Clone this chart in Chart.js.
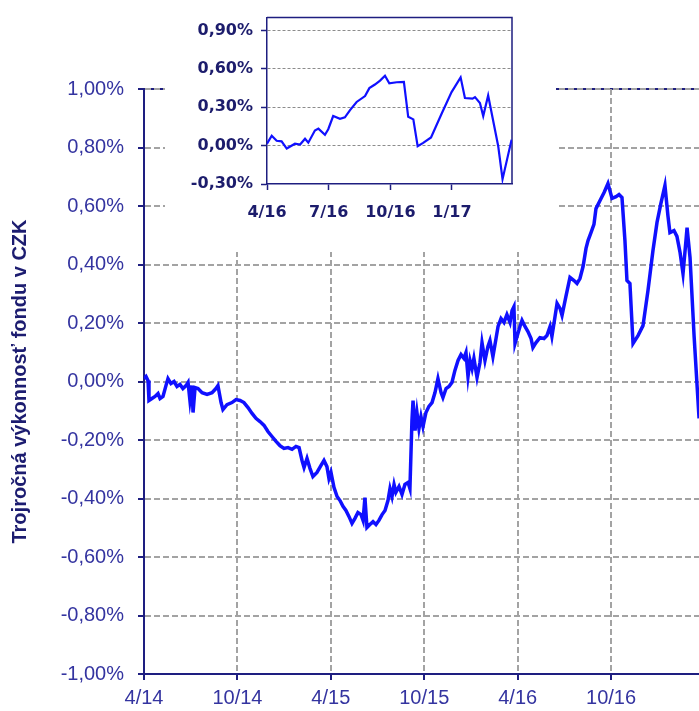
<!DOCTYPE html>
<html>
<head>
<meta charset="utf-8">
<script src="https://cdn.jsdelivr.net/npm/chart.js@4.4.0/dist/chart.umd.min.js"></script>
<style>
html, body { margin: 0; padding: 0; background: #fff; overflow: hidden; }
#wrap { position: relative; width: 699px; height: 711px; overflow: hidden; }
#mainChart { position: absolute; left: 0; top: 0; }
#insetChart { position: absolute; left: 165px; top: 0; background: #fff; }
</style>
</head>
<body>
<div id="wrap">
  <canvas id="mainChart" width="740" height="711"></canvas>
  <canvas id="insetChart" width="391" height="252"></canvas>
</div>
<script>
// main series: months since 4/2014, value in %
const mainMonths = [0.00,0.13,0.26,0.32,0.51,0.71,0.90,1.03,1.22,1.41,1.54,1.73,1.93,2.12,2.31,2.50,2.70,2.83,2.95,3.08,
  3.15,3.28,3.47,3.73,4.05,4.37,4.62,4.75,4.95,5.07,5.33,5.65,5.91,6.17,6.42,6.68,6.94,7.19,7.45,7.71,
  7.96,8.22,8.48,8.73,8.99,9.25,9.51,9.76,9.96,10.15,10.28,10.47,10.66,10.85,11.11,11.37,11.56,11.75,11.88,12.01,
  12.20,12.40,12.59,12.78,12.97,13.17,13.36,13.55,13.74,13.94,14.07,14.19,14.32,14.51,14.71,14.90,15.09,15.29,15.48,15.67,
  15.80,15.93,16.06,16.18,16.38,16.57,16.76,16.96,17.08,17.21,17.28,17.41,17.53,17.66,17.79,17.92,18.11,18.30,18.50,18.69,
  18.88,19.08,19.20,19.40,19.59,19.78,19.97,20.17,20.36,20.55,20.68,20.81,20.94,21.07,21.19,21.39,21.58,21.71,21.90,22.09,
  22.22,22.41,22.61,22.74,22.93,23.12,23.31,23.51,23.64,23.76,23.83,23.96,24.15,24.28,24.47,24.66,24.86,24.98,25.18,25.43,
  25.69,25.88,26.08,26.20,26.40,26.53,26.72,26.85,27.10,27.36,27.62,27.81,28.00,28.20,28.39,28.52,28.71,28.90,29.03,29.29,
  29.55,29.80,30.06,30.32,30.51,30.70,30.89,31.02,31.21,31.41,31.73,32.05,32.37,32.69,32.95,33.20,33.46,33.65,33.78,34.04,
  34.23,34.43,34.62,34.81,34.88,35.07,35.33,35.65];
const mainValues = [0.010,0.017,0.003,-0.065,-0.058,-0.051,-0.041,-0.058,-0.051,-0.014,0.010,-0.007,0.000,-0.017,-0.010,-0.024,-0.014,-0.003,-0.065,-0.014,
  -0.106,-0.021,-0.024,-0.038,-0.044,-0.038,-0.024,-0.014,-0.072,-0.096,-0.079,-0.072,-0.062,-0.065,-0.072,-0.089,-0.109,-0.126,-0.137,-0.150,
  -0.171,-0.188,-0.205,-0.219,-0.229,-0.226,-0.232,-0.222,-0.226,-0.270,-0.294,-0.263,-0.297,-0.325,-0.311,-0.287,-0.270,-0.291,-0.332,-0.311,
  -0.362,-0.393,-0.407,-0.427,-0.441,-0.462,-0.485,-0.468,-0.448,-0.455,-0.475,-0.397,-0.499,-0.489,-0.479,-0.489,-0.475,-0.455,-0.441,-0.407,
  -0.366,-0.393,-0.352,-0.379,-0.359,-0.386,-0.352,-0.345,-0.366,-0.133,-0.065,-0.168,-0.106,-0.161,-0.120,-0.154,-0.106,-0.085,-0.072,-0.038,
  0.010,-0.038,-0.055,-0.024,-0.017,-0.003,0.038,0.072,0.092,0.079,0.099,0.017,0.072,0.044,0.079,0.014,0.065,0.133,0.072,0.120,
  0.140,0.085,0.147,0.188,0.215,0.202,0.229,0.202,0.243,0.256,0.130,0.154,0.188,0.209,0.188,0.171,0.147,0.116,0.133,0.150,
  0.147,0.157,0.188,0.154,0.222,0.267,0.250,0.226,0.291,0.356,0.345,0.335,0.352,0.393,0.455,0.482,0.509,0.537,0.591,0.619,
  0.646,0.677,0.626,0.632,0.639,0.629,0.482,0.345,0.335,0.130,0.157,0.191,0.311,0.448,0.544,0.609,0.670,0.567,0.509,0.516,
  0.496,0.441,0.369,0.482,0.526,0.424,0.157,-0.126];
const mainTickMonths = [0, 6, 12, 18, 24, 30];
const mainTickLabels = ['4/14', '10/14', '4/15', '10/15', '4/16', '10/16'];
const mainYTicks = [-1.0, -0.8, -0.6, -0.4, -0.2, 0.0, 0.2, 0.4, 0.6, 0.8, 1.0];

// inset series (last year)
const insetMonths = [24.00,24.23,24.47,24.71,24.96,25.36,25.61,25.85,26.01,26.33,26.50,26.82,26.98,27.22,27.55,27.79,28.04,28.36,28.77,28.98,
  29.25,29.50,29.74,29.95,30.31,30.66,30.87,31.12,31.33,31.60,31.98,32.50,32.98,33.42,33.63,34.00,34.12,34.36,34.52,34.76,
  35.25,35.46,35.90];
const insetValues = [0.015,0.077,0.038,0.033,-0.023,0.015,0.008,0.054,0.023,0.118,0.133,0.085,0.128,0.231,0.210,0.221,0.277,0.341,0.387,0.449,
  0.477,0.508,0.546,0.487,0.495,0.497,0.225,0.205,-0.005,0.021,0.064,0.251,0.418,0.533,0.372,0.367,0.379,0.333,0.231,0.392,
  -0.005,-0.262,0.046];
const insetTickMonths = [24, 27, 30, 33];
const insetTickLabels = ['4/16', '7/16', '10/16', '1/17'];
const insetYTicks = [-0.3, 0.0, 0.3, 0.6, 0.9];

const navy = '#1e1e80';
const labelBlue = '#3434a0';
const lineBlue = '#1010ff';

function pct(v) {
    return (Math.abs(v) < 1e-9 ? 0 : v).toFixed(2).replace('.', ',') + '%';
}

// top + right edge of the plot area
const frame = {
    id: 'frame',
    beforeDraw(chart, args, opts) {
        const a = chart.chartArea;
        const c = chart.ctx;
        c.save();
        c.strokeStyle = navy;
        c.lineWidth = opts.width || 2;
        c.beginPath();
        c.moveTo(a.left, a.top);
        c.lineTo(a.right, a.top);
        c.lineTo(a.right, a.bottom);
        c.stroke();
        c.restore();
    }
};

const mainCtx = document.getElementById('mainChart').getContext('2d');
new Chart(mainCtx, {
    type: 'line',
    data: {
        datasets: [{
            data: mainMonths.map((m, i) => ({ x: m, y: mainValues[i] })),
            borderColor: lineBlue,
            borderWidth: 3.5,
            pointRadius: 0,
            tension: 0,
            fill: false
        }]
    },
    options: {
        responsive: false,
        animation: false,
        layout: { padding: { top: 89, right: 0, left: 0, bottom: 0 } },
        plugins: { legend: { display: false }, tooltip: { enabled: false }, frame: { width: 2 } },
        scales: {
            x: {
                type: 'linear',
                min: 0,
                max: 38.28,
                afterBuildTicks: s => { s.ticks = mainTickMonths.map(v => ({ value: v })); },
                afterFit: s => { s.height = 37; },
                ticks: {
                    autoSkip: false,
                    maxRotation: 0,
                    padding: 6,
                    color: labelBlue,
                    font: { family: '"Liberation Sans", Arial, sans-serif', size: 20 },
                    callback: v => mainTickLabels[mainTickMonths.indexOf(v)]
                },
                grid: {
                    color: c => c.tick && c.tick.value === 0 ? 'rgba(0,0,0,0)' : '#a3a3a3',
                    lineWidth: 2,
                    tickLength: 6,
                    tickColor: navy,
                    tickWidth: 2,
                    tickBorderDash: []
                },
                border: { color: navy, width: 2, dash: [6, 3] }
            },
            y: {
                min: -1.0,
                max: 1.0,
                afterBuildTicks: s => { s.ticks = mainYTicks.map(v => ({ value: v })); },
                afterFit: s => { s.width = 144; },
                ticks: {
                    padding: 14,
                    color: labelBlue,
                    font: { family: '"Liberation Sans", Arial, sans-serif', size: 20 },
                    callback: v => pct(v)
                },
                grid: {
                    color: c => c.tick && c.tick.value === -1.0 ? 'rgba(0,0,0,0)' : '#a3a3a3',
                    lineWidth: 2,
                    tickLength: 6,
                    tickColor: navy,
                    tickWidth: 2,
                    tickBorderDash: []
                },
                border: { color: navy, width: 2, dash: [6, 3] },
                title: {
                    display: true,
                    text: 'Trojročná výkonnosť fondu v CZK',
                    color: '#1c1c70',
                    font: { family: '"Liberation Sans", Arial, sans-serif', size: 20, weight: 'bold' },
                    padding: { top: 8, bottom: 0 }
                }
            }
        }
    },
    plugins: [frame]
});

const insetCtx = document.getElementById('insetChart').getContext('2d');
new Chart(insetCtx, {
    type: 'line',
    data: {
        datasets: [{
            data: insetMonths.map((m, i) => ({ x: m, y: insetValues[i] })),
            borderColor: lineBlue,
            borderWidth: 2.2,
            pointRadius: 0,
            tension: 0,
            fill: false
        }]
    },
    options: {
        responsive: false,
        animation: false,
        layout: { padding: { top: 15, right: 44, left: 0, bottom: 0 } },
        plugins: { legend: { display: false }, tooltip: { enabled: false }, frame: { width: 1.5 } },
        scales: {
            x: {
                type: 'linear',
                min: 24,
                max: 35.92,
                afterBuildTicks: s => { s.ticks = insetTickMonths.map(v => ({ value: v })); },
                afterFit: s => { s.height = 68; },
                ticks: {
                    autoSkip: false,
                    maxRotation: 0,
                    padding: 13,
                    color: '#1c1c6c',
                    font: { family: '"DejaVu Sans", Verdana, sans-serif', size: 16, weight: 'bold' },
                    callback: v => insetTickLabels[insetTickMonths.indexOf(v)]
                },
                grid: {
                    drawOnChartArea: false,
                    tickLength: 6,
                    tickColor: navy,
                    tickWidth: 1.5
                },
                border: { color: navy, width: 1.5 }
            },
            y: {
                min: -0.3,
                max: 1.0,
                afterBuildTicks: s => { s.ticks = insetYTicks.map(v => ({ value: v })); },
                afterFit: s => { s.width = 102; },
                ticks: {
                    padding: 8,
                    color: '#1c1c6c',
                    font: { family: '"DejaVu Sans", Verdana, sans-serif', size: 16, weight: 'bold' },
                    callback: v => pct(v)
                },
                grid: {
                    color: c => c.tick && c.tick.value === -0.3 ? 'rgba(0,0,0,0)' : '#8c8c8c',
                    lineWidth: 1,
                    tickLength: 6,
                    tickColor: navy,
                    tickWidth: 1.5,
                    tickBorderDash: []
                },
                border: { color: navy, width: 1.5, dash: [3, 2] }
            }
        }
    },
    plugins: [frame]
});
</script>
</body>
</html>
